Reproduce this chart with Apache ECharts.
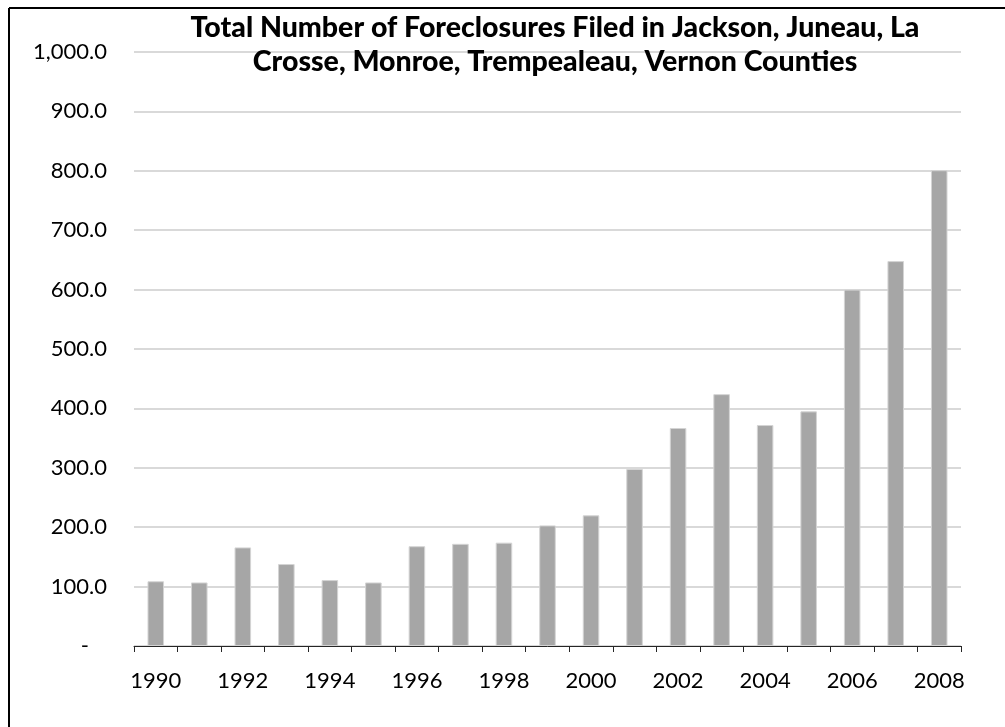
<!DOCTYPE html>
<html>
<head>
<meta charset="utf-8">
<script src="https://cdn.jsdelivr.net/npm/echarts@6/dist/echarts.min.js"></script>
<style>
  html, body { margin: 0; padding: 0; background: #fff; }
  #chart { width: 1005px; height: 727px; }
</style>
</head>
<body>
<div id="chart"></div>
<script>
// Foreclosures filed per year, six Wisconsin counties combined
const years = ['1990', '1991', '1992', '1993', '1994', '1995', '1996', '1997', '1998', '1999',
               '2000', '2001', '2002', '2003', '2004', '2005', '2006', '2007', '2008'];
const foreclosures = [109, 107, 166, 138, 111, 107, 168, 172, 174, 203,
                      220, 298, 367, 424, 372, 395, 600, 648, 801];
const titleLines = ['Total Number of Foreclosures Filed in Jackson, Juneau, La',
                    'Crosse, Monroe, Trempealeau, Vernon Counties'];
const yMin = 0, yMax = 1000, yStep = 100;

const FONT = 'Lato, "Open Sans", sans-serif';

function fmtValue(v) {
  if (v === 0) return '{dash|-}';
  return v.toLocaleString('en-US', { minimumFractionDigits: 1, maximumFractionDigits: 1 });
}

const chart = echarts.init(document.getElementById('chart'), null, { renderer: 'canvas' });
chart.setOption({
  backgroundColor: '#ffffff',
  animation: false,
  title: {
    text: titleLines.join('\n'),
    left: 555,
    top: 11,
    padding: 0,
    textAlign: 'center',
    textStyle: {
      fontFamily: FONT,
      fontWeight: 900,
      fontSize: 28.5,
      lineHeight: 34,
      color: '#000'
    }
  },
  grid: { left: 134, right: 44, top: 52, bottom: 81, containLabel: false },
  xAxis: {
    type: 'category',
    data: years,
    boundaryGap: true,
    axisLine: { show: true, lineStyle: { color: '#262626', width: 1 } },
    axisTick: { show: true, alignWithLabel: false, interval: 0, length: 6, lineStyle: { color: '#262626' } },
    axisLabel: {
      interval: 1,
      margin: 24,
      fontFamily: FONT,
      fontSize: 22,
      color: '#000'
    },
    splitLine: { show: false }
  },
  yAxis: {
    type: 'value',
    min: yMin,
    max: yMax,
    interval: yStep,
    axisLine: { show: false },
    axisTick: { show: false },
    axisLabel: {
      margin: 27,
      fontFamily: FONT,
      fontSize: 22,
      color: '#000',
      formatter: fmtValue,
      rich: {
        dash: { fontFamily: FONT, fontSize: 22, color: '#000', padding: [0, 18, 0, 0] }
      }
    },
    splitLine: { show: true, lineStyle: { color: '#d9d9d9', width: 2 } }
  },
  series: [{
    type: 'bar',
    data: foreclosures,
    barWidth: '38%',
    itemStyle: { color: '#a6a6a6', borderColor: '#d4d4d4', borderWidth: 1 }
  }],
  graphic: [
    { type: 'line', shape: { x1: 9, y1: 8, x2: 9, y2: 727 }, style: { stroke: '#000', lineWidth: 2 } },
    { type: 'line', shape: { x1: 9, y1: 8, x2: 1005, y2: 8 }, style: { stroke: '#000', lineWidth: 2 } }
  ]
});
</script>
</body>
</html>
